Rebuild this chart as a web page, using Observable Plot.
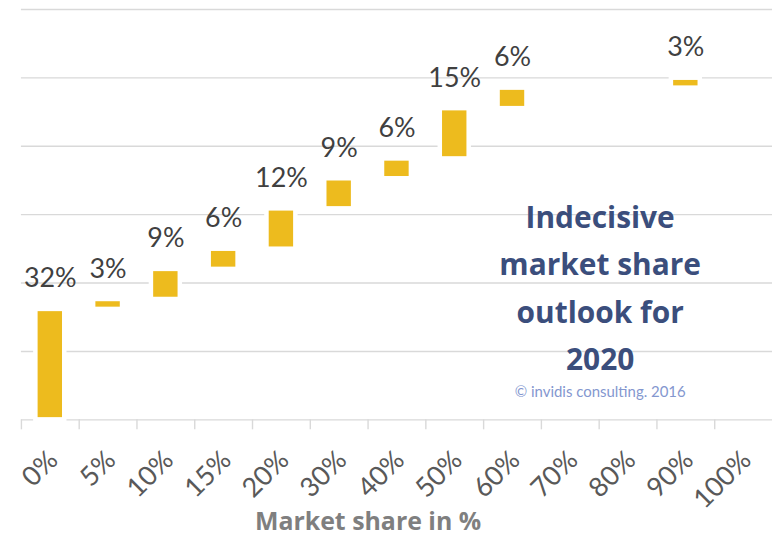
<!DOCTYPE html>
<html>
<head>
<meta charset="utf-8">
<script src="https://cdn.jsdelivr.net/npm/d3@7"></script>
<script src="https://cdn.jsdelivr.net/npm/@observablehq/plot@0.6"></script>
<style>
  html, body { margin: 0; padding: 0; background: #fff; overflow: hidden; }
  #chart { width: 772px; height: 540px; overflow: hidden; }
</style>
</head>
<body>
<div id="chart"></div>
<script>
const categories = ["0%", "5%", "10%", "15%", "20%", "30%", "40%", "50%", "60%", "70%", "80%", "90%", "100%"];
const shares = [32.3, 2.9, 8.8, 5.9, 11.8, 8.8, 5.8, 14.7, 6.0, 0, 0, 2.9, 0];
const shareLabels = ["32%", "3%", "9%", "6%", "12%", "9%", "6%", "15%", "6%", "", "", "3%", ""];
const yTicks = [0, 20, 40, 60, 80, 100, 120];
const annotation = "Indecisive\nmarket share\noutlook for\n2020";
const copyright = "© invidis consulting. 2016";
const xTitle = "Market share in %";

let cum = 0;
const rows = categories.map((c, i) => {
  const start = cum;
  cum += shares[i];
  return {cat: c, start, end: cum, value: shares[i], label: shareLabels[i]};
}).filter(d => d.value > 0);

const W = 775, left = 21, bw = (W - left) / categories.length;
const font = "Lato, 'Open Sans', sans-serif";
const boldFont = "'Open Sans', Lato, sans-serif";

const chart = Plot.plot({
  width: W,
  height: 540,
  marginTop: 9,
  marginLeft: left,
  marginRight: 0,
  marginBottom: 119,
  style: {fontFamily: font, background: "#fff"},
  x: {type: "band", domain: categories, padding: 0},
  y: {domain: [0, 120], axis: null},
  marks: [
    Plot.gridY(yTicks, {stroke: "#d9d9d9", strokeOpacity: 1, strokeWidth: 1.4}),
    Plot.axisX({tickSize: 10, tickFormat: () => "", label: null, dx: -bw / 2, stroke: "#d9d9d9", strokeWidth: 1.4, strokeOpacity: 1}),
    Plot.axisX({tickSize: 0, tickRotate: -45, tickPadding: 36, dx: 3, fontSize: 27, fill: "#595959", label: null, textAnchor: "end"}),
    Plot.rectY(rows, {x: "cat", y1: "start", y2: "end", fill: "#edbb1e", stroke: "#fff", strokeWidth: 4.5, insetLeft: 14.5, insetRight: 14.5}),
    Plot.text(rows, {x: "cat", y: "end", text: "label", dy: -22, lineAnchor: "bottom", fontSize: 27, fill: "#404040"}),
    Plot.text([annotation], {frameAnchor: "top-left", dx: 581, dy: 186, lineAnchor: "top", lineHeight: 1.58, fontSize: 30, fontWeight: "bold", fontFamily: boldFont, fill: "#3b4e7c", textAnchor: "middle"}),
    Plot.text([copyright], {frameAnchor: "top-left", dx: 581, dy: 378, lineAnchor: "top", fontSize: 15, fill: "#8497cf", textAnchor: "middle"}),
    Plot.text([xTitle], {frameAnchor: "bottom", dx: -29, dy: 93, lineAnchor: "top", fontSize: 25, fontWeight: "bold", fontFamily: boldFont, fill: "#7f7f7f"})
  ]
});
document.getElementById("chart").appendChild(chart);
</script>
</body>
</html>
